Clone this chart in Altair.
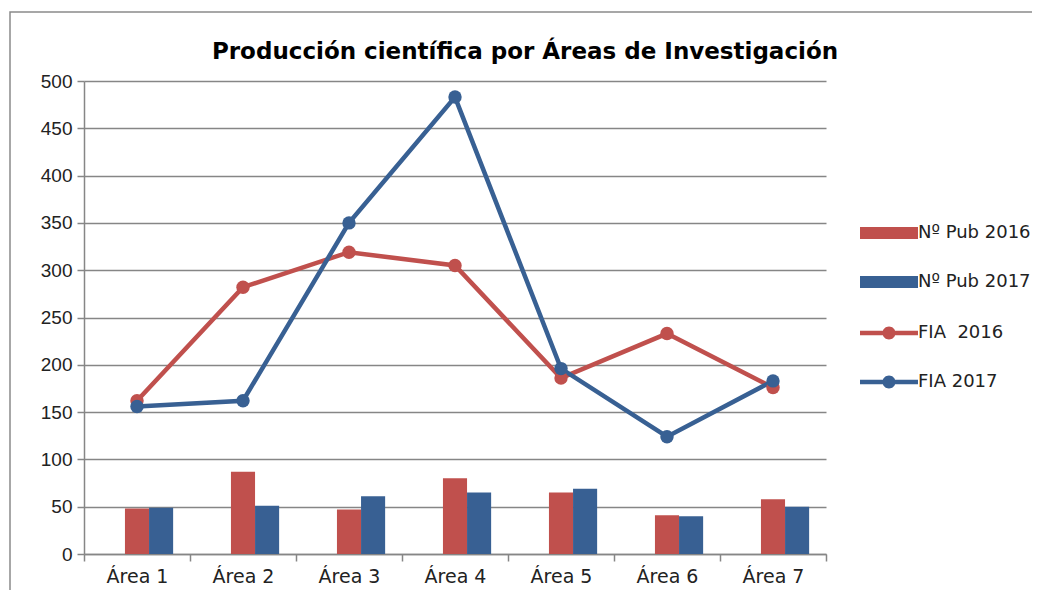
import altair as alt
import pandas as pd

areas = ["Área 1", "Área 2", "Área 3", "Área 4", "Área 5", "Área 6", "Área 7"]
pub_2016 = [48, 87, 47, 80, 65, 41, 58]
pub_2017 = [49, 51, 61, 65, 69, 40, 50]
fia_2016 = [162, 282, 319, 305, 186, 233, 176]
fia_2017 = [156, 162, 350, 483, 196, 124, 183]

bar_series = ["Nº Pub 2016", "Nº Pub 2017"]
line_series = ["FIA\u00a0\u00a02016", "FIA 2017"]
red = "#C0504D"
blue = "#386093"

bars = pd.DataFrame({
    "area": areas * 2,
    "serie": [bar_series[0]] * 7 + [bar_series[1]] * 7,
    "valor": pub_2016 + pub_2017,
})
lines = pd.DataFrame({
    "area": areas * 2,
    "serie": [line_series[0]] * 7 + [line_series[1]] * 7,
    "valor": fia_2016 + fia_2017,
})

xscale = alt.Scale(domain=areas, paddingInner=0, paddingOuter=0)
yscale = alt.Scale(domain=[0, 500], nice=False)

x_enc = alt.X("area:N", sort=areas, scale=xscale, title=None,
              axis=alt.Axis(labelAngle=0, labelFontSize=19, labelFont="DejaVu Sans",
                            labelColor="#222222", tickBand="extent", tickSize=7,
                            tickColor="#868686", tickWidth=1.5, domainColor="#868686",
                            domainWidth=1.5, labelPadding=6, grid=False))
y_enc = alt.Y("valor:Q", scale=yscale, title=None,
              axis=alt.Axis(values=list(range(0, 501, 50)), labelFontSize=19,
                            labelFont="Liberation Sans Narrow, Liberation Sans",
                            labelColor="#222222",
                            tickSize=7, tickColor="#868686", tickWidth=1.5,
                            domainColor="#868686", domainWidth=1.5, labelPadding=5,
                            grid=True, gridColor="#868686", gridWidth=1.5))

bar_sym = "M-2.9,-0.6L2.9,-0.6L2.9,0.6L-2.9,0.6Z"
line_sym = ("M-2.9,-0.22L2.9,-0.22L2.9,0.22L-2.9,0.22Z"
            "M-0.65,0A0.65,0.65 0 1,1 0.65,0A0.65,0.65 0 1,1 -0.65,0Z")

bar_layer = alt.Chart(bars).mark_bar().encode(
    x=x_enc,
    y=y_enc,
    xOffset=alt.XOffset("serie:N", scale=alt.Scale(domain=["_"] + bar_series,
                                                    paddingInner=0, paddingOuter=0.7)),
    fill=alt.Fill("serie:N", scale=alt.Scale(domain=bar_series, range=[red, blue]),
                  legend=alt.Legend(title=None, orient="none", legendX=795, legendY=142,
                                    symbolType=bar_sym, symbolSize=400, labelOffset=19,
                                    rowPadding=30, padding=0, labelFontSize=18,
                                    labelFont="DejaVu Sans", labelColor="#222222",
                                    symbolStrokeWidth=0)),
)

line16 = alt.Chart(lines).transform_filter(
    alt.datum.serie == line_series[0]
).mark_line(strokeWidth=4.5, color=red).encode(x=alt.X("area:N", sort=areas), y="valor:Q")
line17 = alt.Chart(lines).transform_filter(
    alt.datum.serie == line_series[1]
).mark_line(strokeWidth=4.5, color=blue).encode(x=alt.X("area:N", sort=areas), y="valor:Q")

points = alt.Chart(lines).mark_circle(size=180, opacity=1).encode(
    x=alt.X("area:N", sort=areas),
    y="valor:Q",
    color=alt.Color("serie:N", scale=alt.Scale(domain=line_series, range=[red, blue]),
                    legend=alt.Legend(title=None, orient="none", legendX=795, legendY=242,
                                      symbolType=line_sym, symbolSize=400, labelOffset=19,
                                      rowPadding=30, padding=0, labelFontSize=18,
                                      labelFont="DejaVu Sans", labelColor="#222222",
                                      symbolOpacity=1, symbolStrokeWidth=0)),
)

frame = alt.Chart(pd.DataFrame({"k": [0]})).mark_rect(
    fill="transparent", stroke="#8a8a8a", strokeWidth=1.5
).encode(x=alt.value(-74), y=alt.value(-69), x2=alt.value(1100), y2=alt.value(700))

chart = alt.layer(frame, bar_layer, line16, line17, points).properties(
    width=742,
    height=473,
    autosize=alt.AutoSizeParams(type="none"),
    padding={"left": 76, "top": 73, "right": 206, "bottom": 40},
    title=alt.TitleParams("Producción científica por Áreas de Investigación",
                          fontSize=23, font="DejaVu Sans", fontWeight="bold",
                          color="#000000", anchor="middle", offset=17, dx=70, dy=70),
).configure_view(stroke=None)

chart.save("out.html", embed_options={"renderer": "svg", "actions": False})
